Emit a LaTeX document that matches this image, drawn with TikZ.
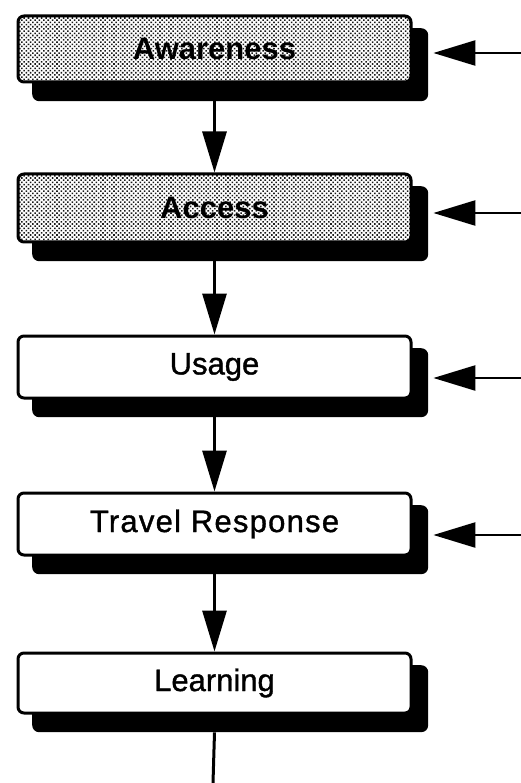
\documentclass[tikz,border=0pt]{standalone}
\usepackage{fontspec}
\setmainfont{Liberation Sans}
\newfontfamily\labelfont[FakeBold=1.2]{Liberation Sans}
\usetikzlibrary{arrows.meta,patterns.meta,backgrounds}
\begin{document}
\begin{tikzpicture}[x=1pt,y=-1pt,
  stage/.style={draw=black, fill=white, line width=3pt, rounded corners=6pt,
    minimum width=393pt, inner sep=0pt, anchor=north west,
    font=\labelfont\fontsize{31}{31}\selectfont},
  halftone/.style={preaction={fill=white},
    pattern={Dots[distance=3.1pt,radius=1.1pt,angle=45]}, pattern color=black!90,
    font=\fontsize{31}{31}\selectfont\bfseries},
  shadowbox/.style={fill=black, rounded corners=7pt, inner sep=0pt,
    minimum width=396pt, anchor=north west},
  flow/.style={line width=3pt, -{Triangle[length=41pt,width=24pt]}},
  feed/.style={line width=2.4pt, shorten >=5pt, -{Triangle[length=42pt,width=25pt]}},
]
\useasboundingbox (0,0) rectangle (521,783);

% stage boxes
\node[stage, halftone, minimum height=66pt] (b1) at (16.5,14.5) {Awareness};
\node[stage, halftone, minimum height=68pt] (b2) at (16.5,172.5) {Access};
\node[stage, minimum height=62pt] (b3) at (16.5,334.5) {Usage};
\node[stage, minimum height=62pt] (b4) at (16.5,491.5)
  {\addfontfeatures{LetterSpace=4}Travel Response};
\node[stage, minimum height=60pt] (b5) at (16.5,651.5) {Learning};

% drop shadows behind the boxes
\begin{scope}[on background layer]
  \node[shadowbox, minimum height=73pt] (s1) at (32,28) {};
  \node[shadowbox, minimum height=75pt] (s2) at (32,186) {};
  \node[shadowbox, minimum height=69pt] (s3) at (32,348) {};
  \node[shadowbox, minimum height=69pt] (s4) at (32,505) {};
  \node[shadowbox, minimum height=67pt] (s5) at (32,665) {};
\end{scope}

% flow between stages
\draw[flow] (b1.south |- s1.south) -- (b2.north);
\draw[flow] (b2.south |- s2.south) -- (b3.north);
\draw[flow] (b3.south |- s3.south) -- (b4.north);
\draw[flow] (b4.south |- s4.south) -- (b5.north);
\coordinate (out) at (213,783);
\draw[line width=3pt] (b5.south |- s5.south) -- (out);

% inputs from the right
\coordinate (in1) at (521,53);
\coordinate (in2) at (521,213);
\coordinate (in3) at (521,378);
\coordinate (in4) at (521,535);
\draw[feed] (in1) -- (in1 -| s1.east);
\draw[feed] (in2) -- (in2 -| s2.east);
\draw[feed] (in3) -- (in3 -| s3.east);
\draw[feed] (in4) -- (in4 -| s4.east);
\end{tikzpicture}
\end{document}
